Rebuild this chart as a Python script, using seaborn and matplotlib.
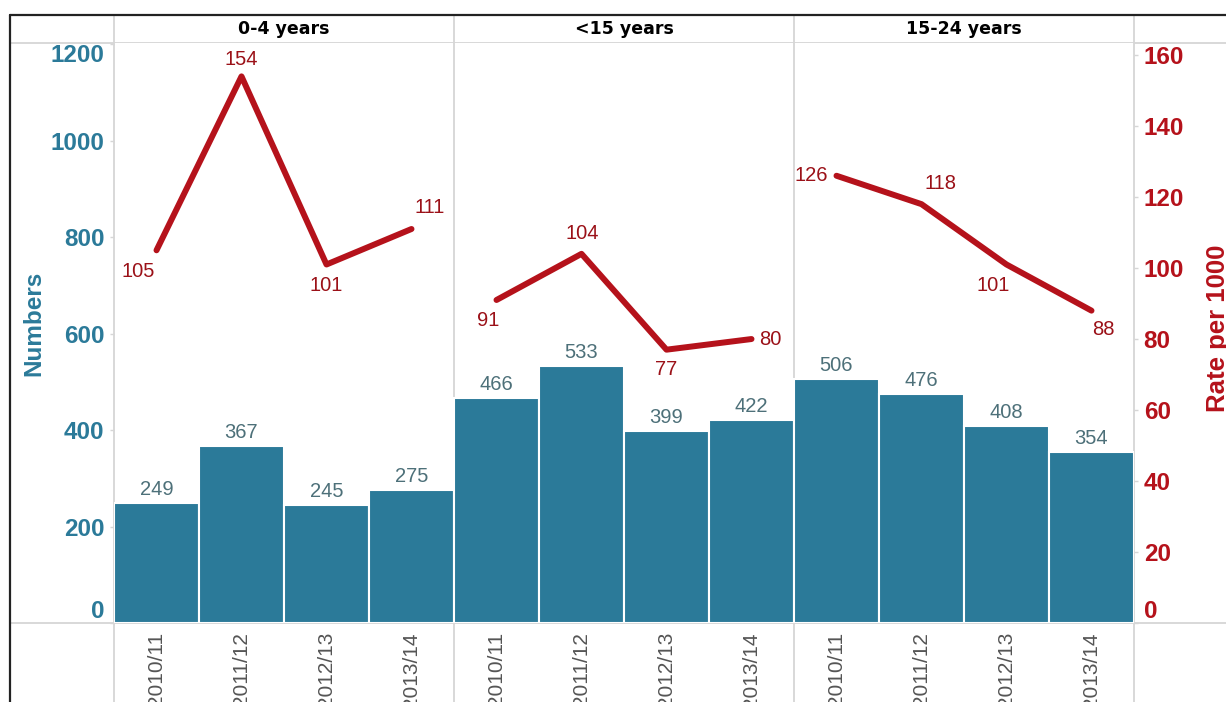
import pandas as pd
import seaborn as sns
import matplotlib.pyplot as plt
import numpy as np
from matplotlib.lines import Line2D
from matplotlib import transforms

sns.set_style('white')
plt.rcParams['font.family'] = ['Liberation Sans', 'DejaVu Sans']

# 数据
ages = ['0-4 years', '<15 years', '15-24 years']
seasons = ['2010/11', '2011/12', '2012/13', '2013/14']
numbers_04 = [249, 367, 245, 275]
numbers_15 = [466, 533, 399, 422]
numbers_1524 = [506, 476, 408, 354]
rate_04 = [105, 154, 101, 111]
rate_15 = [91, 104, 77, 80]
rate_1524 = [126, 118, 101, 88]

df = pd.DataFrame({
    'age': np.repeat(ages, len(seasons)),
    'season': seasons * len(ages),
    'number': numbers_04 + numbers_15 + numbers_1524,
    'rate': rate_04 + rate_15 + rate_1524,
})
df['key'] = df['age'] + ' ' + df['season']
df['pos'] = np.arange(len(df))

bar_col = '#2b7a99'
line_col = '#b5121b'
rate_txt = '#9b1118'
num_txt = '#4d7079'
grid_col = '#d6d6d6'

W, H = 1226, 702
fig = plt.figure(figsize=(W / 100, H / 100), dpi=100)
ax = fig.add_axes([114 / W, 1 - 623 / H, 1020 / W, 580 / H])

sns.barplot(data=df, x='key', y='number', order=df['key'], color=bar_col,
            saturation=1, width=1, edgecolor='white', linewidth=1.5,
            errorbar=None, ax=ax)
ax.set_xlim(-0.5, len(df) - 0.5)
ax.set_ylim(0, 1203)
ax.set_xlabel('')
ax.set_ylabel('')
ax.set_xticks(df['pos'])
ax.set_xticklabels(df['season'], rotation=90, fontsize=15, color='#555555', va='top')
ax.set_xticks(np.arange(len(df) + 1) - 0.5, minor=True)
ax.tick_params(axis='x', which='major', length=0, pad=6.5)
ax.tick_params(axis='x', which='minor', length=4.5, width=1, color=grid_col)
ax.set_yticks(range(0, 1201, 200))
ax.tick_params(axis='y', length=3, width=1, color=grid_col, pad=4,
               labelsize=17.5, labelcolor=bar_col)
for t in ax.get_yticklabels():
    t.set_fontweight('bold')
for s in ax.spines.values():
    s.set_visible(False)

# 柱子数值
for p, v in zip(df['pos'], df['number']):
    ax.annotate(str(v), (p, v), xytext=(0, 4), textcoords='offset pixels',
                ha='center', va='bottom', fontsize=14.5, color=num_txt)

# 折线 (右轴)
ax2 = ax.twinx()
sns.lineplot(data=df, x='pos', y='rate', units='age', estimator=None,
             color=line_col, linewidth=4.3, solid_capstyle='round',
             legend=False, ax=ax2)
ax2.set_ylim(0, 163.4)
ax2.set_xlim(-0.5, len(df) - 0.5)
ax2.set_xlabel('')
ax2.set_ylabel('')
ax2.set_yticks(range(0, 161, 20))
ax2.tick_params(axis='y', length=3, width=1, color=grid_col, pad=4,
                labelsize=17.5, labelcolor=line_col)
for t in ax2.get_yticklabels():
    t.set_fontweight('bold')
for s in ax2.spines.values():
    s.set_visible(False)

rate_offsets = [(-18, -21), (0, 17), (0, -21), (18, 21),
                (-8, -21), (1, 20), (0, -20), (19, 0),
                (-25, 0), (19, 21), (-13, -21), (12, -19)]
for p, v, off in zip(df['pos'], df['rate'], rate_offsets):
    ax2.annotate(str(v), (p, v), xytext=off, textcoords='offset pixels',
                 ha='center', va='center', fontsize=14.5, color=rate_txt)

# 分组标题
trans = transforms.blended_transform_factory(ax.transData, ax.transAxes)
for a in ages:
    cx = df.loc[df['age'] == a, 'pos'].mean()
    ax.text(cx, 1 + 14 / 580, a, transform=trans, ha='center', va='center',
            fontsize=12.5, fontweight='bold', family='DejaVu Sans', color='black')

# 分隔线
for xb in [-0.5, 3.5, 7.5, 11.5]:
    ax.axvline(xb, ymin=-0.2, ymax=1 + 28 / 580, color=grid_col, lw=1.3,
               clip_on=False, zorder=0)
for yy in [623, 43]:
    fig.add_artist(Line2D([10 / W, 1], [1 - yy / H, 1 - yy / H],
                          color=grid_col, lw=1.3, zorder=0))
fig.add_artist(Line2D([10 / W, 1], [1 - 15 / H, 1 - 15 / H], color='#222222', lw=1.6))
fig.add_artist(Line2D([10 / W, 10 / W], [0, 1 - 15 / H], color='#222222', lw=1.6))

# 轴标题
fig.text(33.5 / W, 1 - 323 / H, 'Numbers', rotation=90, ha='center', va='center',
         fontsize=17.5, fontweight='bold', color=bar_col)
fig.text(1218.5 / W, 1 - 328 / H, 'Rate per 1000', rotation=90, ha='center', va='center',
         fontsize=18.5, fontweight='bold', color=line_col)

# 端点刻度标签对齐
yl = ax.get_yticklabels()
yl[0].set_va('bottom')
yl[-1].set_va('top')
ax2.get_yticklabels()[0].set_va('bottom')

fig.savefig('out.png', dpi=100)
